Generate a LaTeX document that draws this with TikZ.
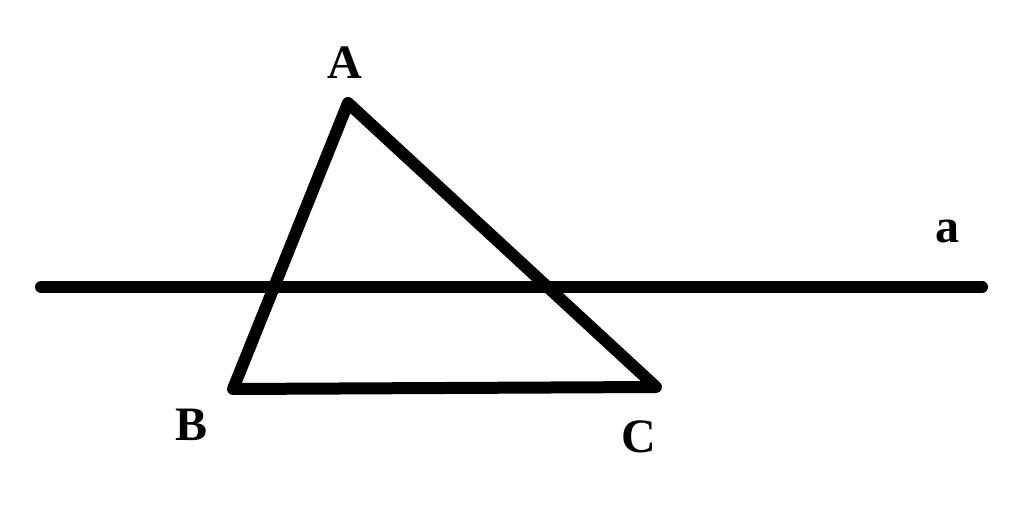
\documentclass[tikz,border=0pt]{standalone}
\usepackage{fontspec}
\setmainfont{Liberation Serif}
\usepackage{tikz}
\tikzstyle{side}=[line width=12pt,line cap=round,line join=round]
\tikzstyle{vlabel}=[font=\bfseries\fontsize{48}{48}\selectfont,inner sep=0pt]

\begin{document}
\begin{tikzpicture}[x=1pt,y=-1pt]
  \useasboundingbox (0,0) rectangle (1024,513);

  \coordinate (A) at (348,103);
  \coordinate (B) at (233,389);
  \coordinate (C) at (656,387);
  \coordinate (L1) at (41,287);
  \coordinate (L2) at (982,287);

  \draw[side] (A) -- (B) -- (C) -- cycle;
  \draw[side] (L1) -- (L2);

  \node[vlabel] (nA) at (345,63) {A};
  \node[vlabel] (nB) at (192,425) {B};
  \node[vlabel] (nC) at (639,437) {C};
  \node[vlabel] (na) at (947,231) {a};
\end{tikzpicture}
\end{document}
